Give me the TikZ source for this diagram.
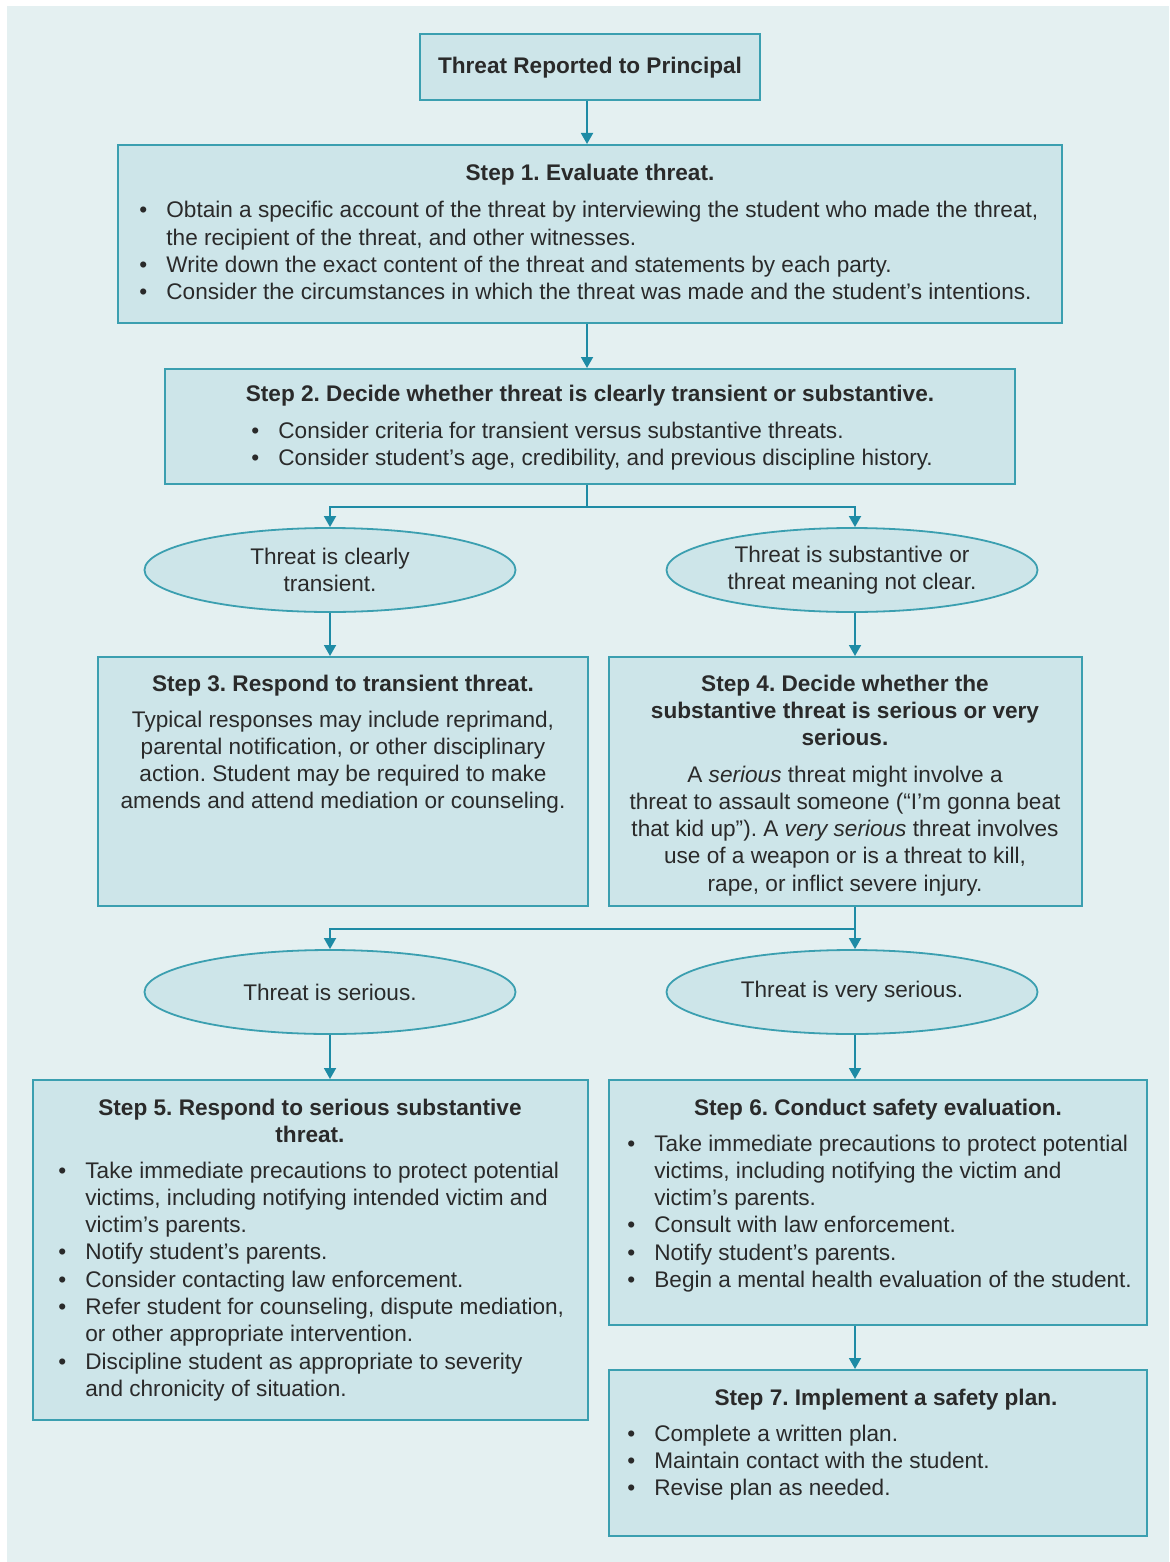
\documentclass[tikz,border=0pt]{standalone}
\usepackage{fontspec}
\setmainfont{Liberation Sans}
\usetikzlibrary{shapes.geometric,arrows.meta}
\frenchspacing

\definecolor{pagebg}{HTML}{E4F0F1}
\definecolor{boxfill}{HTML}{CDE5E9}
\definecolor{boxline}{HTML}{3B9FB0}
\definecolor{arrowcol}{HTML}{1E8BA5}
\definecolor{ink}{HTML}{2A2A2A}

\newcommand{\bodyfont}{\fontsize{11.3}{13.65}\selectfont}
\newcommand{\bul}{\makebox[11.5pt][l]{\hspace{-2pt}\textbullet}}
\newcommand{\cont}{\hspace{11.5pt}}

\tikzset{
  stepbox/.style={draw=boxline, fill=boxfill, line width=1pt, rectangle, inner sep=0pt},
  oval/.style={draw=boxline, fill=boxfill, line width=0.9pt, ellipse, inner sep=0pt,
               minimum width=185.5pt, minimum height=42pt, text=ink, font=\bodyfont, align=center},
  title/.style={anchor=base, inner sep=0pt, text=ink, font=\bodyfont\bfseries},
  body/.style={anchor=base west, inner sep=0pt, text=ink, font=\bodyfont},
  cbody/.style={anchor=base, inner sep=0pt, text=ink, font=\bodyfont},
  link/.style={draw=arrowcol, line width=0.9pt},
  arr/.style={link, -{Triangle[width=6pt,length=5.5pt]}}
}

\begin{document}
\begin{tikzpicture}[x=0.5pt,y=-0.5pt]
  % page and tinted backdrop
  \fill[white] (0,0) rectangle (1169,1562);
  \fill[pagebg] (7,6) rectangle (1169,1562);
  \useasboundingbox (0,0) rectangle (1169,1562);

  % boxes
  \node[stepbox, minimum width=170pt, minimum height=33pt] (top) at (590,67) {};
  \node[stepbox, minimum width=472pt, minimum height=89pt] (s1) at (590,234) {};
  \node[stepbox, minimum width=425pt, minimum height=57.5pt] (s2) at (590,426.5) {};
  \node[stepbox, minimum width=245pt, minimum height=124.5pt] (s3) at (343,781.5) {};
  \node[stepbox, minimum width=236.5pt, minimum height=124.5pt] (s4) at (845.5,781.5) {};
  \node[stepbox, minimum width=277.5pt, minimum height=170pt] (s5) at (310.5,1250) {};
  \node[stepbox, minimum width=269pt, minimum height=122.5pt] (s6) at (878,1202.5) {};
  \node[stepbox, minimum width=269pt, minimum height=83pt] (s7) at (878,1453) {};

  % decision ovals
  \node[oval] (e1) at (330,570) {Threat is clearly\\transient.};
  \node[oval] (e2) at (852,570) {Threat is substantive or\\threat meaning not clear.};
  \node[oval] (e3) at (330,992) {Threat is serious.};
  \node[oval] (e4) at (852,992) {Threat is very serious.};

  % box texts
  \node[title] (ttop) at (590,74) {Threat Reported to Principal};

  \node[title] (t1) at (590,181) {Step 1. Evaluate threat.};
  \node[body] (b1) at (143,218) {\begin{tabular}[t]{@{}l@{}}
    \bul Obtain a specific account of the threat by interviewing the student who made the threat,\\
    \cont the recipient of the threat, and other witnesses.\\
    \bul Write down the exact content of the threat and statements by each party.\\
    \bul Consider the circumstances in which the threat was made and the student’s intentions.
  \end{tabular}};

  \node[title] (t2) at (590,401) {Step 2. Decide whether threat is clearly transient or substantive.};
  \node[body] (b2) at (255,438) {\begin{tabular}[t]{@{}l@{}}
    \bul Consider criteria for transient versus substantive threats.\\
    \bul Consider student’s age, credibility, and previous discipline history.
  \end{tabular}};

  \node[title] (t3) at (343,691) {Step 3. Respond to transient threat.};
  \node[cbody] (b3) at (343,727) {\begin{tabular}[t]{@{}c@{}}
    Typical responses may include reprimand,\\
    parental notification, or other disciplinary\\
    action. Student may be required to make\\
    amends and attend mediation or counseling.
  \end{tabular}};

  \node[cbody, font=\bodyfont\bfseries] (t4) at (845,691) {\begin{tabular}[t]{@{}c@{}}
    Step 4. Decide whether the\\
    substantive threat is serious or very\\
    serious.
  \end{tabular}};
  \node[cbody] (b4) at (845,782) {\begin{tabular}[t]{@{}c@{}}
    A \textit{serious} threat might involve a\\
    threat to assault someone (“I’m gonna beat\\
    that kid up”). A \textit{very serious} threat involves\\
    use of a weapon or is a threat to kill,\\
    rape, or inflict severe injury.
  \end{tabular}};

  \node[cbody, font=\bodyfont\bfseries] (t5) at (310,1115) {\begin{tabular}[t]{@{}c@{}}
    Step 5. Respond to serious substantive\\
    threat.
  \end{tabular}};
  \node[body] (b5) at (62,1178) {\begin{tabular}[t]{@{}l@{}}
    \bul Take immediate precautions to protect potential\\
    \cont victims, including notifying intended victim and\\
    \cont victim’s parents.\\
    \bul Notify student’s parents.\\
    \bul Consider contacting law enforcement.\\
    \bul Refer student for counseling, dispute mediation,\\
    \cont or other appropriate intervention.\\
    \bul Discipline student as appropriate to severity\\
    \cont and chronicity of situation.
  \end{tabular}};

  \node[title] (t6) at (878,1115) {Step 6. Conduct safety evaluation.};
  \node[body] (b6) at (631,1151) {\begin{tabular}[t]{@{}l@{}}
    \bul Take immediate precautions to protect potential\\
    \cont victims, including notifying the victim and\\
    \cont victim’s parents.\\
    \bul Consult with law enforcement.\\
    \bul Notify student’s parents.\\
    \bul Begin a mental health evaluation of the student.
  \end{tabular}};

  \node[title] (t7) at (886,1405) {Step 7. Implement a safety plan.};
  \node[body] (b7) at (631,1441) {\begin{tabular}[t]{@{}l@{}}
    \bul Complete a written plan.\\
    \bul Maintain contact with the student.\\
    \bul Revise plan as needed.
  \end{tabular}};

  % connectors
  \coordinate (j1) at (587,507);
  \coordinate (j2) at (855,929);
  \draw[arr] (top.south -| j1) -- (s1.north -| j1);
  \draw[arr] (s1.south -| j1) -- (s2.north -| j1);
  \draw[link] (s2.south -| j1) -- (j1);
  \draw[arr] (j1) -| (e1.north);
  \draw[arr] (j1) -| (e2.north -| j2);
  \draw[arr] (e1.south) -- (e1.south |- s3.north);
  \draw[arr] (e2.south -| j2) -- (s4.north -| j2);
  \draw[arr] (s4.south -| j2) -- (e4.north -| j2);
  \draw[arr] (j2) -| (e3.north);
  \draw[arr] (e3.south) -- (e3.south |- s5.north);
  \draw[arr] (e4.south -| j2) -- (s6.north -| j2);
  \draw[arr] (s6.south -| j2) -- (s7.north -| j2);
\end{tikzpicture}
\end{document}
